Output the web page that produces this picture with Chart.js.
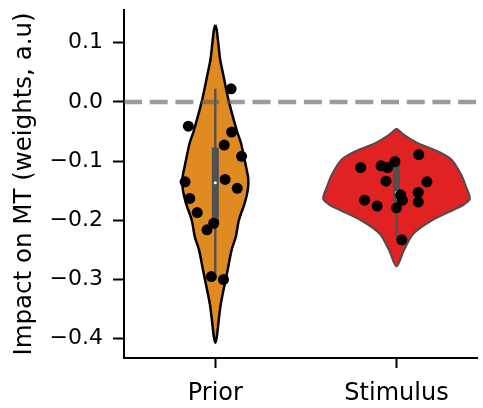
<!DOCTYPE html>
<html lang="en">
<head>
  <meta charset="UTF-8" />
  <title>Impact on MT</title>
  <script src="https://cdn.jsdelivr.net/npm/chart.js"></script>
  <style>
    body { margin: 0; background: #fff; }
    #wrap { width: 483px; height: 408px; }
  </style>
</head>
<body>
  <div id="wrap"><canvas id="violino"></canvas></div>

  <script>
    // categorias e ticks
    const categories = ['Prior', 'Stimulus'];
    const yTicks = [0.1, 0.0, -0.1, -0.2, -0.3, -0.4];

    // pontos individuais (valor + deslocamento horizontal)
    const priorValues = [0.022, -0.041, -0.051, -0.073, -0.092, -0.135, -0.131, -0.146, -0.163, -0.187, -0.205, -0.216, -0.295, -0.300];
    const priorJitter = [0.087, -0.149, 0.090, 0.049, 0.145, -0.167, 0.054, 0.121, -0.141, -0.100, -0.009, -0.046, -0.022, 0.045];
    const stimValues = [-0.111, -0.108, -0.111, -0.101, -0.089, -0.134, -0.135, -0.153, -0.157, -0.166, -0.169, -0.166, -0.176, -0.179, -0.233];
    const stimJitter = [-0.198, -0.085, -0.049, -0.009, 0.123, -0.058, 0.168, 0.120, 0.023, 0.033, 0.120, -0.176, -0.107, 0.000, 0.029];

    // contorno do violino: altura e meia largura
    const priorViolinY = [0.130, 0.121, 0.100, 0.071, 0.050, 0.003, -0.050, -0.069, -0.100, -0.130, -0.149, -0.170, -0.200, -0.228, -0.250, -0.284, -0.340, -0.368, -0.397, -0.407];
    const priorViolinW = [0, 0.008, 0.016, 0.027, 0.041, 0.073, 0.120, 0.141, 0.163, 0.182, 0.179, 0.163, 0.130, 0.113, 0.090, 0.068, 0.031, 0.019, 0.008, 0];
    const stimViolinY = [-0.045, -0.056, -0.070, -0.083, -0.098, -0.126, -0.142, -0.154, -0.164, -0.174, -0.183, -0.200, -0.222, -0.250, -0.278];
    const stimViolinW = [0, 0.043, 0.120, 0.225, 0.305, 0.362, 0.382, 0.398, 0.405, 0.370, 0.310, 0.196, 0.095, 0.042, 0];

    // caixa interna
    const boxQ1 = [-0.205, -0.168];
    const boxMedian = [-0.1365, -0.153];
    const boxQ3 = [-0.077, -0.095];
    const whiskerLo = [-0.290, -0.228];
    const whiskerHi = [0.022, -0.089];

    const violinFill = ['#E08A22', '#E02222'];
    const violinEdge = ['#000000', '#4d4d4d'];

    function violinShape(i, ys, ws) {
      const right = ys.map((y, j) => ({ x: i + ws[j], y: y }));
      const left = ys.map((y, j) => ({ x: i - ws[j], y: y })).reverse();
      return right.concat(left.slice(1));
    }

    const datasets = [];

    // pontos
    datasets.push({
      type: 'scatter',
      data: priorValues.map((v, k) => ({ x: priorJitter[k], y: v }))
        .concat(stimValues.map((v, k) => ({ x: 1 + stimJitter[k], y: v }))),
      pointRadius: 5.5, pointBackgroundColor: '#000', pointBorderWidth: 0,
      order: 1
    });

    // medianas
    datasets.push({
      type: 'scatter',
      data: boxMedian.map((m, i) => ({ x: i, y: m })),
      pointRadius: 1.5, pointBackgroundColor: '#fff', pointBorderWidth: 0,
      order: 2
    });

    // linha tracejada em zero
    datasets.push({
      type: 'line',
      data: [{ x: -0.504, y: 0 }, { x: 1.447, y: 0 }],
      borderColor: 'rgba(90,90,90,0.6)', borderWidth: 4.5,
      borderDash: [18, 7.7], pointRadius: 0, fill: false,
      order: 3
    });

    categories.forEach((c, i) => {
      datasets.push({
        type: 'line',
        data: [{ x: i, y: boxQ1[i] }, { x: i, y: boxQ3[i] }],
        borderColor: '#505050', borderWidth: 7, borderCapStyle: 'butt',
        pointRadius: 0, fill: false, order: 4
      });
      datasets.push({
        type: 'line',
        data: [{ x: i, y: whiskerLo[i] }, { x: i, y: whiskerHi[i] }],
        borderColor: '#505050', borderWidth: 2.3,
        pointRadius: 0, fill: false, order: 5
      });
    });

    datasets.push({
      type: 'line',
      data: violinShape(0, priorViolinY, priorViolinW),
      borderColor: violinEdge[0], backgroundColor: violinFill[0],
      borderWidth: 2.5, tension: 0.3, pointRadius: 0, fill: 'shape',
      order: 6
    });
    datasets.push({
      type: 'line',
      data: violinShape(1, stimViolinY, stimViolinW),
      borderColor: violinEdge[1], backgroundColor: violinFill[1],
      borderWidth: 2, tension: 0.3, pointRadius: 0, fill: 'shape',
      order: 6
    });

    const fonte = 'DejaVu Sans';

    new Chart(document.getElementById('violino'), {
      type: 'scatter',
      data: { datasets: datasets },
      options: {
        responsive: true,
        maintainAspectRatio: false,
        animation: false,
        layout: { padding: { top: 10, right: 0, left: 0, bottom: 0 } },
        plugins: { legend: { display: false }, tooltip: { enabled: false } },
        scales: {
          x: {
            type: 'linear',
            min: -0.504, max: 1.447,
            afterBuildTicks: s => { s.ticks = categories.map((c, i) => ({ value: i })); },
            afterFit: s => { s.height = 50; s.paddingLeft = 0; s.paddingRight = 0; },
            grid: { drawOnChartArea: false, drawTicks: true, tickLength: 10, tickColor: '#000', tickWidth: 2 },
            border: { display: true, color: '#000', width: 2 },
            ticks: {
              padding: 11, color: '#000', maxRotation: 0,
              font: { family: fonte, size: 24 },
              callback: v => categories[Math.round(v)]
            }
          },
          y: {
            type: 'linear',
            min: -0.4326, max: 0.1552,
            afterBuildTicks: s => { s.ticks = yTicks.map(v => ({ value: v })); },
            afterFit: s => { s.width = 124; s.paddingTop = 0; s.paddingBottom = 0; },
            grid: { drawOnChartArea: false, drawTicks: true, tickLength: 11, tickColor: '#000', tickWidth: 2 },
            border: { display: true, color: '#000', width: 2 },
            ticks: {
              padding: 10, color: '#000',
              font: { family: fonte, size: 22 },
              callback: v => (v < -1e-9 ? '\u2212' : '') + Math.abs(v).toFixed(1)
            },
            title: {
              display: true, text: 'Impact on MT (weights, a.u)', color: '#000',
              font: { family: fonte, size: 24.5 },
              padding: { top: 10, bottom: 0 }
            }
          }
        }
      }
    });
  </script>
</body>
</html>
